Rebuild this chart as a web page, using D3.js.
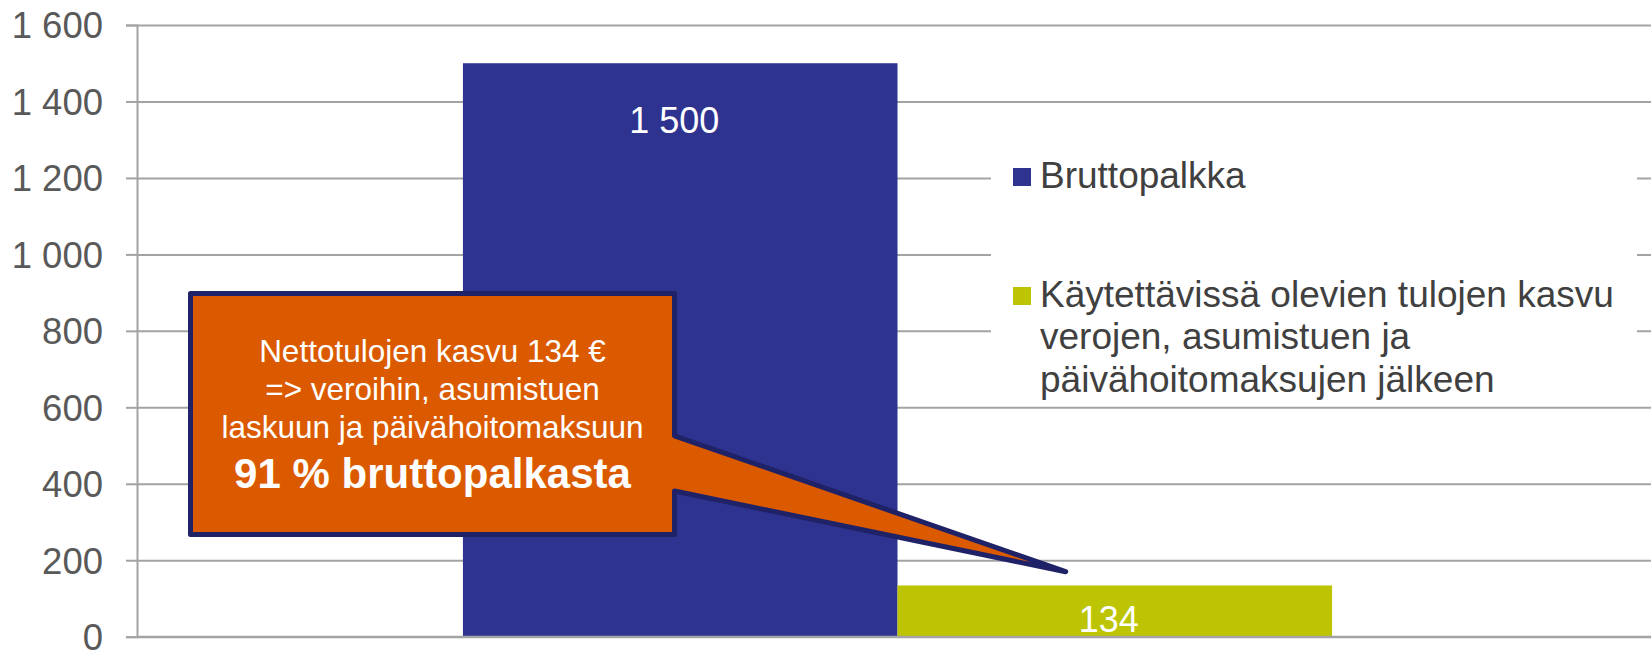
<!DOCTYPE html>
<html>
<head>
<meta charset="utf-8">
<script src="https://cdn.jsdelivr.net/npm/d3@7"></script>
<style>
  body { margin: 0; background: #fff; }
  svg { display: block; font-family: "Liberation Sans", Arial, sans-serif; }
</style>
</head>
<body>
<div id="chart"></div>
<script>
// data
var categories = [""];
var seriesNames = ["Bruttopalkka", "Käytettävissä olevien tulojen kasvu verojen, asumistuen ja päivähoitomaksujen jälkeen"];
var seriesValues = [1500, 134];
var yTicks = [0, 200, 400, 600, 800, 1000, 1200, 1400, 1600];
var legendLines = [
  ["Bruttopalkka"],
  ["Käytettävissä olevien tulojen kasvu", "verojen, asumistuen ja", "päivähoitomaksujen jälkeen"]
];
var calloutLines = ["Nettotulojen kasvu 134 €", "=> veroihin, asumistuen", "laskuun ja päivähoitomaksuun"];
var calloutBold = "91 % bruttopalkasta";
var calloutTipValue = 170;

var svgWidth = 1651;
var svgHeight = 650;

var plot = { left: 137, right: 1658, top: 25, bottom: 636.7 };

var svg = d3.select("#chart")
  .append("svg")
  .attr("width", svgWidth)
  .attr("height", svgHeight);

var fi = d3.formatLocale({ decimal: ",", thousands: "\u00a0", grouping: [3], currency: ["", " €"] });
var fmt = fi.format(",d");

// scales
var x0 = d3.scaleBand()
  .domain(categories)
  .range([plot.left, plot.right])
  .paddingInner(0)
  .paddingOuter(0.375);

var x1 = d3.scaleBand()
  .domain(seriesNames)
  .range([0, x0.bandwidth()]);

var y = d3.scaleLinear()
  .domain([0, 1600])
  .range([plot.bottom, plot.top]);

var color = d3.scaleOrdinal()
  .domain(seriesNames)
  .range(["#2e3390", "#bcc403"]);

var gridColor = "#a3a3a3";

// gridlines
svg.append("g")
  .attr("transform", `translate(${plot.left},0)`)
  .call(d3.axisLeft(y).tickValues(yTicks).tickSize(-(svgWidth - plot.left)).tickFormat(""))
  .call(g => g.select(".domain").remove())
  .call(g => g.selectAll("line").attr("stroke", gridColor).attr("stroke-width", 2));

// bars
var rows = seriesNames.map((s, i) => ({ cat: categories[0], name: s, value: seriesValues[i] }));

var barGroup = svg.append("g");
barGroup.selectAll("rect")
  .data(rows)
  .enter()
  .append("rect")
  .attr("x", d => x0(d.cat) + x1(d.name))
  .attr("y", d => y(d.value))
  .attr("width", x1.bandwidth())
  .attr("height", d => y(0) - y(d.value))
  .attr("fill", d => color(d.name));

// y axis
svg.append("g")
  .attr("transform", `translate(${plot.left},0)`)
  .call(d3.axisLeft(y).tickValues(yTicks).tickSize(11).tickPadding(23).tickFormat(fmt))
  .call(g => g.select(".domain").attr("stroke", gridColor).attr("stroke-width", 2))
  .call(g => g.selectAll(".tick line").attr("stroke", gridColor).attr("stroke-width", 2))
  .call(g => g.selectAll(".tick text")
    .attr("fill", "#595959")
    .attr("font-size", "36.5px")
    .attr("font-family", "Liberation Sans, Arial, sans-serif")
    .attr("dy", "0.35em"));

// baseline
svg.append("line")
  .attr("x1", plot.left)
  .attr("x2", svgWidth)
  .attr("y1", y(0))
  .attr("y2", y(0))
  .attr("stroke", gridColor)
  .attr("stroke-width", 2);

// data labels
barGroup.selectAll("text")
  .data(rows)
  .enter()
  .append("text")
  .attr("x", d => x0(d.cat) + x1(d.name) + x1.bandwidth() / 2)
  .attr("dx", -6)
  .attr("y", d => Math.min(y(d.value) + 70, y(0) - 5))
  .attr("text-anchor", "middle")
  .attr("fill", "#ffffff")
  .attr("font-size", "36px")
  .text(d => fmt(d.value));

// legend
var legend = svg.append("g");
legend.append("rect")
  .attr("x", 991)
  .attr("y", 115)
  .attr("width", 1637 - 991)
  .attr("height", 285)
  .attr("fill", "#ffffff");

var legendTop = [168, 287];
var lineStep = 42.5;
seriesNames.forEach(function(s, i) {
  legend.append("rect")
    .attr("x", 1013)
    .attr("y", legendTop[i])
    .attr("width", 18)
    .attr("height", 18)
    .attr("fill", color(s));
  var t = legend.append("text")
    .attr("x", 1040)
    .attr("y", legendTop[i] + 19.5)
    .attr("fill", "#404040")
    .attr("font-size", "37px");
  legendLines[i].forEach(function(line, j) {
    t.append("tspan")
      .attr("x", 1040)
      .attr("dy", j === 0 ? 0 : lineStep)
      .text(line);
  });
});

// callout
var box = { left: 190.5, right: 674.5, top: 293.5, bottom: 534.5 };
var wedgeTop = 435.8;
var wedgeBottom = 491;
var tipX = x0(categories[0]) + x1(seriesNames[1]) + x1.bandwidth() * 0.387;
var tipY = y(calloutTipValue);

var path = d3.path();
path.moveTo(box.left, box.top);
path.lineTo(box.right, box.top);
path.lineTo(box.right, wedgeTop);
path.lineTo(tipX, tipY);
path.lineTo(box.right, wedgeBottom);
path.lineTo(box.right, box.bottom);
path.lineTo(box.left, box.bottom);
path.closePath();

svg.append("path")
  .attr("d", path.toString())
  .attr("fill", "#db5a00")
  .attr("stroke", "#1f2266")
  .attr("stroke-width", 5)
  .attr("stroke-linejoin", "round");

var cx = (box.left + box.right) / 2;
var callText = svg.append("g")
  .attr("fill", "#ffffff")
  .attr("text-anchor", "middle");

calloutLines.forEach(function(line, j) {
  callText.append("text")
    .attr("x", cx)
    .attr("y", 362.3 + j * 37.7)
    .attr("font-size", "31.5px")
    .text(line);
});

callText.append("text")
  .attr("x", cx)
  .attr("y", 488)
  .attr("font-size", "42px")
  .attr("font-weight", "bold")
  .text(calloutBold);
</script>
</body>
</html>
